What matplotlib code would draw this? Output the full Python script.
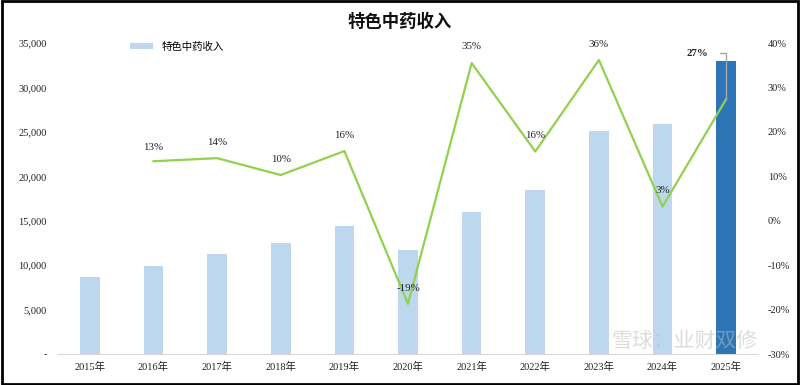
import matplotlib
matplotlib.use("Agg")
import matplotlib.pyplot as plt
from matplotlib.patches import Rectangle
from matplotlib.ticker import FuncFormatter

plt.rcParams['font.family'] = ['Liberation Serif', 'Noto Sans CJK SC', 'DejaVu Sans']

years = ['2015年', '2016年', '2017年', '2018年', '2019年', '2020年',
         '2021年', '2022年', '2023年', '2024年', '2025年']
revenue = [8700, 9900, 11250, 12500, 14400, 11700, 16000, 18450, 25100, 25900, 33000]
growth = [None, 13.4, 14.1, 10.3, 15.7, -18.7, 35.5, 15.6, 36.2, 3.2, 27.4]
growth_labels = [None, '13%', '14%', '10%', '16%', '-19%', '35%', '16%', '36%', '3%', '27%']

fig = plt.figure(figsize=(8, 3.85), dpi=100)
ax = fig.add_axes([0.0725, 0.0805, 0.875, 0.8075])
x = list(range(len(years)))
colors = ['#BDD7EE'] * (len(years) - 1) + ['#2E75B6']
ax.bar(x, revenue, width=0.31, color=colors, label='特色中药收入', zorder=2)
ax.set_xlim(-0.5, len(years) - 0.5)
ax.set_ylim(0, 35000)
ax.set_yticks(range(0, 35001, 5000))
ax.yaxis.set_major_formatter(FuncFormatter(lambda v, p: '-' if v == 0 else f'{int(v):,}'))
ax.set_xticks(x)
ax.set_xticklabels(years)
for s in ['top', 'right', 'left']:
    ax.spines[s].set_visible(False)
ax.spines['bottom'].set_color('#D9D9D9')
ax.tick_params(axis='both', length=0, labelsize=7.5, colors='#222222')
ax.tick_params(axis='y', pad=8)
ax.tick_params(axis='x', pad=6)

ax2 = ax.twinx()
gx = [i for i, g in zip(x, growth) if g is not None]
gy = [g for g in growth if g is not None]
ax2.plot(gx, gy, color='#92D050', lw=1.6, zorder=3)
ax2.set_ylim(-30, 40)
ax2.set_yticks(range(-30, 41, 10))
ax2.yaxis.set_major_formatter(FuncFormatter(lambda v, p: f'{int(v)}%'))
for s in ['top', 'right', 'left', 'bottom']:
    ax2.spines[s].set_visible(False)
ax2.tick_params(axis='y', length=0, labelsize=7.5, colors='#222222', pad=7)

offsets = {1: 3.2, 2: 3.6, 3: 3.5, 4: 3.6, 5: 3.4, 6: 3.8, 7: 3.6, 8: 3.6, 9: 3.6}
for i, (g, lab) in enumerate(zip(growth, growth_labels)):
    if g is None or i == 10:
        continue
    ax2.text(i, g + offsets[i], lab, ha='center', va='center', fontsize=7.8, color='#222222')
ax2.annotate(growth_labels[10], xy=(10, growth[10]), xytext=(9.55, 37.7),
             ha='center', va='center', fontsize=7.8, fontweight='bold', color='#222222',
             arrowprops=dict(arrowstyle='-', color='#A6A6A6', lw=1,
                             connectionstyle='angle,angleA=0,angleB=90,rad=0',
                             shrinkA=6, shrinkB=0))

leg = ax.legend(loc='upper left', bbox_to_anchor=(0.09, 1.035), frameon=False,
                prop={'family': ['Noto Sans CJK SC'], 'size': 7.5},
                handlelength=2.2, handleheight=0.5)

fig.text(0.5, 0.943, '特色中药收入', ha='center', va='center', fontsize=12.5,
         fontweight='bold', family=['Noto Sans CJK SC'], color='#111111')

fig.text(0.855, 0.115, '雪球：业财双修', ha='center', va='center', fontsize=15,
         family=['Noto Sans CJK SC'], color='#BBBBBB', alpha=0.5, zorder=10)

fig.patches.append(Rectangle((0.002, 0.003), 0.996, 0.994, transform=fig.transFigure,
                             fill=False, edgecolor='black', lw=2))

fig.savefig('out.png', dpi=100)
